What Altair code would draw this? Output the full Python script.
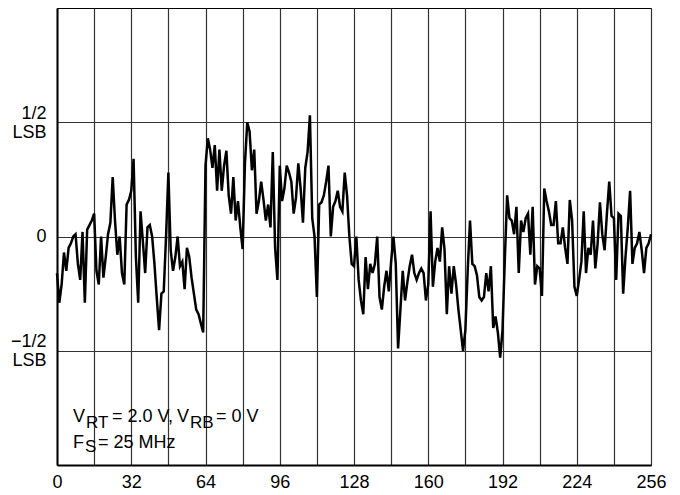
import altair as alt
import pandas as pd

# Output code (0..256) and differential error in LSB
codes = list(range(257))
error_lsb = [
    -0.16, -0.29, -0.21, -0.07, -0.15, -0.05, -0.03, 0.00, 0.01, -0.12,
    -0.19, 0.02, -0.29, 0.03, 0.05, 0.07, 0.10, -0.15, -0.21, 0.00,
    -0.18, -0.09, 0.01, 0.06, 0.26, 0.07, -0.08, 0.00, -0.16, -0.21,
    0.14, 0.16, 0.20, 0.34, -0.09, -0.29, 0.11, -0.02, -0.16, 0.04,
    0.05, 0.00, -0.12, -0.27, -0.41, -0.25, -0.24, 0.00, 0.28, -0.06,
    -0.15, -0.09, 0.00, -0.13, -0.11, -0.23, -0.05, -0.09, -0.18, -0.25,
    -0.32, -0.34, -0.38, -0.42, 0.31, 0.43, 0.38, 0.30, 0.40, 0.20,
    0.38, 0.20, 0.31, 0.375, 0.18, 0.10, 0.26, 0.07, 0.155, 0.04,
    -0.055, 0.32, 0.50, 0.46, 0.29, 0.38, 0.10, 0.155, 0.24, 0.16,
    0.07, 0.14, 0.04, 0.37, -0.05, -0.19, 0.31, 0.155, 0.21, 0.31,
    0.28, 0.24, 0.10, 0.17, 0.32, 0.21, 0.06, 0.30, 0.37, 0.53,
    0.08, 0.00, -0.265, 0.14, 0.15, 0.18, 0.24, 0.31, 0.00, 0.13,
    0.155, 0.20, 0.13, 0.11, 0.28, 0.18, 0.00, -0.12, -0.13, 0.00,
    -0.19, -0.28, -0.34, -0.09, -0.23, -0.12, -0.16, -0.12, 0.00, -0.265,
    -0.32, -0.22, -0.15, -0.24, -0.11, 0.00, -0.12, -0.49, -0.32, -0.15,
    -0.28, -0.20, -0.13, -0.08, -0.16, -0.19, -0.16, -0.14, -0.16, -0.28,
    -0.21, 0.11, -0.22, -0.11, -0.05, -0.11, 0.04, -0.055, -0.34, -0.13,
    -0.25, -0.13, -0.21, -0.32, -0.41, -0.50, -0.41, -0.15, 0.07, -0.12,
    -0.13, -0.17, -0.265, -0.28, -0.265, -0.16, -0.24, -0.13, -0.40, -0.35,
    -0.42, -0.53, -0.41, -0.10, 0.18, 0.08, 0.07, 0.01, 0.13, -0.16,
    0.07, 0.02, 0.08, 0.10, -0.08, 0.13, -0.21, -0.13, -0.14, -0.26,
    0.21, 0.155, 0.11, 0.05, 0.05, 0.155, -0.03, -0.03, 0.04, -0.05,
    -0.12, 0.16, 0.07, -0.22, -0.26, -0.19, -0.11, 0.11, -0.16, -0.05,
    -0.08, 0.07, -0.14, -0.03, 0.15, 0.01, -0.06, 0.10, 0.24, 0.09,
    0.08, -0.19, 0.10, 0.09, -0.25, -0.09, 0.04, 0.20, -0.12, -0.05,
    -0.03, 0.02, -0.06, -0.16, -0.05, -0.03, 0.01,
]
x_grid = list(range(0, 257, 16))
y_grid = [-0.5, 0, 0.5]

FONT = "Liberation Sans, Arial, sans-serif"
FS = 18
W, H = 594, 457

df = pd.DataFrame({"code": codes, "err": error_lsb})

line = alt.Chart(df).mark_line(color="black", strokeWidth=2.5, strokeJoin="miter").encode(
    x=alt.X(
        "code:Q",
        scale=alt.Scale(domain=[0, 256], nice=False, zero=False),
        axis=alt.Axis(
            values=x_grid,
            labelExpr="datum.value % 32 == 0 ? datum.label : ''",
            grid=True, gridColor="#333", gridWidth=1.2, gridOpacity=1,
            ticks=False, title=None,
            domainColor="black", domainWidth=2,
            labelFont=FONT, labelFontSize=FS, labelColor="black",
            labelPadding=8, labelOverlap=False, labelFlush=False,
        ),
    ),
    y=alt.Y(
        "err:Q",
        scale=alt.Scale(domain=[-1, 1], nice=False, zero=False),
        axis=alt.Axis(
            values=y_grid,
            labelExpr="datum.value == 0.5 ? ['1/2','LSB'] : (datum.value == -0.5 ? ['\u22121/2','LSB'] : '0')",
            grid=True, gridColor="#333", gridWidth=1.2, gridOpacity=1,
            ticks=False, title=None,
            domainColor="black", domainWidth=2,
            labelFont=FONT, labelFontSize=FS, labelColor="black",
            labelPadding=11, labelOverlap=False, labelFlush=False,
            labelLineHeight=19,
            labelOffset=alt.condition("datum.value == 0", alt.value(0), alt.value(-9)),
        ),
    ),
)

one = pd.DataFrame({"k": [0]})


def txt(s, x, y, size=18):
    return alt.Chart(one).mark_text(
        text=s, x=x, y=y, align="left", baseline="alphabetic",
        font=FONT, fontSize=size, color="black",
    )


annot = [
    txt("V", 16, 414),
    txt("RT", 29, 420, 17),
    txt("= 2.0 V,", 55, 414),
    txt("V", 120, 414),
    txt("RB", 133, 420, 17),
    txt("= 0 V", 159, 414),
    txt("F", 16, 440),
    txt("S", 28, 444, 17),
    txt("= 25 MHz", 41, 440),
]

chart = alt.layer(line, *annot).properties(
    width=W, height=H,
    autosize=alt.AutoSizeParams(type="none"),
    padding={"left": 49, "top": 0, "right": 20, "bottom": 30},
).configure_view(stroke="black", strokeWidth=1)

chart.save("out.html", embed_options={"renderer": "svg", "actions": False})
